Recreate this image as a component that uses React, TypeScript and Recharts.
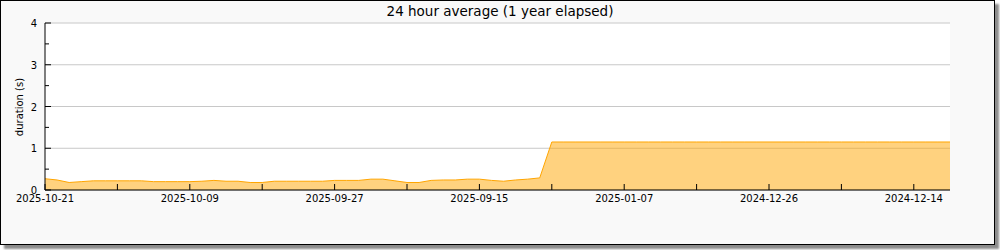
import React from 'react';
import { AreaChart, Area, XAxis, YAxis, CartesianGrid } from 'recharts';

const dates: string[] = [
  '2025-10-21', '2025-10-20', '2025-10-19', '2025-10-18', '2025-10-17', '2025-10-16', '2025-10-15',
  '2025-10-14', '2025-10-13', '2025-10-12', '2025-10-11', '2025-10-10', '2025-10-09', '2025-10-08',
  '2025-10-07', '2025-10-06', '2025-10-05', '2025-10-04', '2025-10-03', '2025-10-02', '2025-10-01',
  '2025-09-30', '2025-09-29', '2025-09-28', '2025-09-27', '2025-09-26', '2025-09-25', '2025-09-24',
  '2025-09-23', '2025-09-22', '2025-09-21', '2025-09-20', '2025-09-19', '2025-09-18', '2025-09-17',
  '2025-09-16', '2025-09-15', '2025-09-14', '2025-09-13', '2025-09-12', '2025-09-11', '2025-09-10',
  '2025-01-13', '2025-01-12', '2025-01-11', '2025-01-10', '2025-01-09', '2025-01-08', '2025-01-07',
  '2025-01-06', '2025-01-05', '2025-01-04', '2025-01-03', '2025-01-02', '2025-01-01',
  '2024-12-31', '2024-12-30', '2024-12-29', '2024-12-28', '2024-12-27', '2024-12-26', '2024-12-25',
  '2024-12-24', '2024-12-23', '2024-12-22', '2024-12-21', '2024-12-20', '2024-12-19', '2024-12-18',
  '2024-12-17', '2024-12-16', '2024-12-15', '2024-12-14', '2024-12-13', '2024-12-12', '2024-12-11',
];

const durations: number[] = [
  0.27, 0.24, 0.18, 0.2, 0.22, 0.22, 0.22, 0.22, 0.22, 0.2, 0.2, 0.2, 0.2, 0.21,
  0.23, 0.21, 0.21, 0.18, 0.18, 0.21, 0.21, 0.21, 0.21, 0.21, 0.23, 0.23, 0.23, 0.26,
  0.26, 0.22, 0.18, 0.18, 0.23, 0.24, 0.24, 0.26, 0.26, 0.23, 0.21, 0.24, 0.26, 0.29,
  1.15, 1.15, 1.15, 1.15, 1.15, 1.15, 1.15, 1.15, 1.15, 1.15, 1.15, 1.15, 1.15,
  1.15, 1.15, 1.15, 1.15, 1.15, 1.15, 1.15, 1.15, 1.15, 1.15, 1.15, 1.15, 1.15,
  1.15, 1.15, 1.15, 1.15, 1.15, 1.15, 1.15, 1.15,
];

const xTicks: string[] = [
  '2025-10-21', '2025-10-15', '2025-10-09', '2025-10-03', '2025-09-27', '2025-09-21', '2025-09-15',
  '2025-01-13', '2025-01-07', '2025-01-01', '2024-12-26', '2024-12-20', '2024-12-14',
];
const xLabels: string[] = ['2025-10-21', '2025-10-09', '2025-09-27', '2025-09-15', '2025-01-07', '2024-12-26', '2024-12-14'];
const yTicks: number[] = [0, 0.5, 1, 1.5, 2, 2.5, 3, 3.5, 4];
const gridValues: number[] = [0, 1, 2, 3, 4];

const data = dates.map((d, i) => ({ date: d, value: durations[i] }));

const FONT = '"DejaVu Sans", sans-serif';

const XTick = (props: any) => {
  const { x, y, payload } = props;
  const label = xLabels.includes(payload.value) ? payload.value : '';
  return (
    <g>
      <line x1={x} x2={x} y1={y} y2={y - 6} stroke="#000" strokeWidth={1} />
      {label && (
        <text x={x} y={y + 12} textAnchor="middle" fontSize={10} fontFamily={FONT} fill="#000">
          {label}
        </text>
      )}
    </g>
  );
};

const YTick = (props: any) => {
  const { x, y, payload } = props;
  const major = Number.isInteger(payload.value);
  return (
    <g>
      <line x1={x} x2={x + (major ? 6 : 4)} y1={y} y2={y} stroke="#000" strokeWidth={1} />
      {major && (
        <text x={x - 8} y={y + 4} textAnchor="end" fontSize={10} fontFamily={FONT} fill="#000">
          {payload.value}
        </text>
      )}
    </g>
  );
};

export default function App() {
  return (
    <div style={{ position: 'absolute', left: 0, top: 0, width: 1000, height: 250 }}>
      <div
        style={{
          position: 'absolute',
          left: 0,
          top: 0,
          width: 995,
          height: 245,
          boxSizing: 'border-box',
          border: '1px solid #000',
          background: '#f9f9f9',
          boxShadow: '4px 4px 2px rgba(0,0,0,0.45)',
        }}
      />
      <div
        style={{
          position: 'absolute',
          left: 0,
          top: 3,
          width: 1000,
          textAlign: 'center',
          fontFamily: FONT,
          fontSize: 13.5,
          lineHeight: '16px',
          color: '#000',
        }}
      >
        24 hour average (1 year elapsed)
      </div>
      <div
        style={{
          position: 'absolute',
          left: 19,
          top: 107,
          transform: 'translate(-50%, -50%) rotate(-90deg)',
          fontFamily: FONT,
          fontSize: 10,
          whiteSpace: 'nowrap',
          color: '#000',
        }}
      >
        duration (s)
      </div>
      <div style={{ position: 'absolute', left: 0, top: 0 }}>
        <AreaChart width={995} height={245} data={data} margin={{ top: 23, right: 45, left: 0, bottom: 25 }}>
          <CartesianGrid
            vertical={false}
            horizontalValues={gridValues}
            stroke="#c8c8c8"
            fill="#ffffff"
            fillOpacity={1}
          />
          <XAxis
            dataKey="date"
            type="category"
            ticks={xTicks}
            interval={0}
            tick={<XTick />}
            tickLine={false}
            tickSize={0}
            tickMargin={0}
            height={30}
            axisLine={{ stroke: '#000', strokeWidth: 1 }}
            padding={{ left: 0, right: 0 }}
          />
          <YAxis
            type="number"
            domain={[0, 4]}
            ticks={yTicks}
            interval={0}
            tick={<YTick />}
            tickLine={false}
            tickSize={0}
            tickMargin={0}
            width={45}
            axisLine={{ stroke: '#000', strokeWidth: 1 }}
          />
          <Area
            type="linear"
            dataKey="value"
            stroke="#ffa500"
            strokeWidth={1}
            fill="#ffa500"
            fillOpacity={0.5}
            isAnimationActive={false}
            dot={false}
            activeDot={false}
          />
        </AreaChart>
      </div>
    </div>
  );
}
